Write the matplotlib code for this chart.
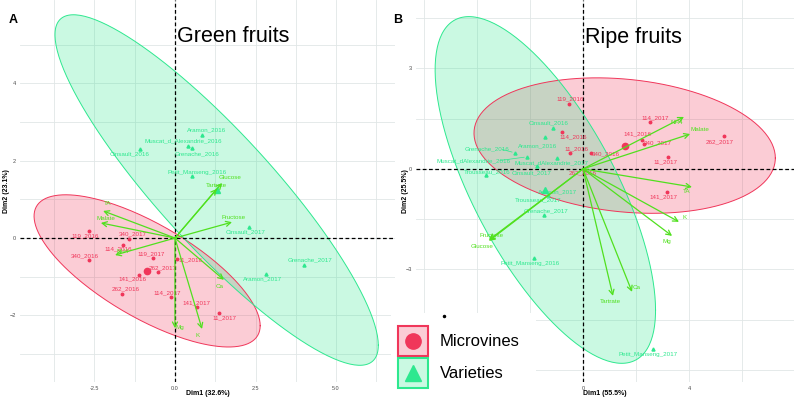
import matplotlib.pyplot as plt
import numpy as np
from matplotlib.lines import Line2D
from matplotlib.patches import Rectangle

plt.rcParams["font.family"] = ["Liberation Sans", "DejaVu Sans"]

RED = "#F0365A"
GREEN = "#2EE88F"
LIME = "#50E01E"

# ---------------- Panel A: green fruits ----------------
a_micro_names = ["119_2016", "340_2017", "114_2016", "340_2016", "119_2017", "262_2017",
                 "141_2016", "262_2016", "114_2017", "141_2017", "11_2017", "11_2016"]
a_micro_x = [-2.67, -1.43, -1.61, -2.67, -0.68, -0.53, -1.12, -1.65, -0.12, 0.68, 1.37, 0.06]
a_micro_y = [0.18, -0.03, -0.18, -0.57, -0.52, -0.88, -0.96, -1.45, -1.52, -1.78, -1.94, -0.54]

a_var_names = ["Aramon_2016", "Muscat_d_Alexandrie_2016", "Grenache_2016", "Cinsault_2016",
               "Petit_Manseng_2016", "Cinsault_2017", "Grenache_2017", "Aramon_2017"]
a_var_x = [0.84, 0.40, 0.53, -1.09, 0.53, 2.30, 4.01, 2.83]
a_var_y = [2.66, 2.38, 2.33, 2.30, 1.60, 0.28, -0.70, -0.93]

a_arrow_names = ["TA", "Malate", "NH4", "Glucose", "Tartrate", "Fructose", "Ca", "K", "Mg"]
a_arrow_x = [-2.23, -2.30, -1.86, 1.46, 1.30, 1.77, 1.52, 0.84, 0.0]
a_arrow_y = [0.70, 0.39, -0.44, 1.42, 1.27, 0.41, -1.08, -2.35, -2.33]

# ---------------- Panel B: ripe fruits ----------------
b_micro_names = ["119_2016", "114_2016", "11_2016", "340_2016", "262_2016", "141_2016",
                 "340_2017", "114_2017", "11_2017", "262_2017", "141_2017"]
b_micro_x = [-0.53, -0.79, -0.49, 0.30, 0.04, 2.23, 2.30, 2.53, 3.21, 5.32, 3.17]
b_micro_y = [1.94, 1.10, 0.48, 0.48, -0.03, 0.87, 0.75, 1.40, 0.36, 0.99, -0.69]

b_var_names = ["Cinsault_2016", "Aramon_2016", "Grenache_2016", "Muscat_dAlexandrie_2016",
               "Muscat_dAlexandrie_2017", "Cinsault_2017", "Trousseau_2016", "Aramon_2017",
               "Trousseau_2017", "Grenache_2017", "Petit_Manseng_2016", "Petit_Manseng_2017"]
b_var_x = [-1.13, -1.43, -2.57, -2.11, -0.98, -1.74, -3.66, -1.43, -1.32, -1.47, -1.85, 2.64]
b_var_y = [1.22, 0.96, 0.48, 0.36, 0.33, 0.09, -0.18, -0.63, -0.78, -1.37, -2.66, -5.37]

b_arrow_names = ["NH4", "Malate", "TA", "K", "Mg", "Ca", "Tartrate", "Fructose", "Glucose"]
b_arrow_x = [3.81, 4.04, 4.11, 3.62, 3.36, 1.85, 1.13, -3.55, -3.55]
b_arrow_y = [1.55, 1.04, -0.54, -1.58, -2.00, -3.67, -3.79, -2.12, -2.15]

# label nudges (pixels, right / up) -- mimic the repelled labels
a_nudge = {
    "Aramon_2016": (5, 5), "Muscat_d_Alexandrie_2016": (-5, 5), "Grenache_2016": (5, -6),
    "Cinsault_2016": (-10, -5), "Petit_Manseng_2016": (5, 4), "Cinsault_2017": (-3, -5),
    "Grenache_2017": (6, 5), "Aramon_2017": (-4, -5),
    "119_2016": (-4, -5), "340_2017": (4, 5), "114_2016": (-5, -4), "340_2016": (-4, 4),
    "119_2017": (-2, 4), "262_2017": (5, 4), "141_2016": (-6, -4), "262_2016": (4, 5),
    "114_2017": (-4, 4), "141_2017": (0, 4), "11_2017": (5, -5), "11_2016": (14, -1),
}
a_arrow_nudge = {
    "TA": (4, 7), "Malate": (5, 4), "NH4": (8, 4), "Glucose": (8, 6), "Tartrate": (0, 3),
    "Fructose": (2, 5), "Ca": (-4, -7), "K": (-4, -7), "Mg": (5, 1),
}
b_nudge = {
    "Cinsault_2016": (-4, 5), "Aramon_2016": (-8, -9), "Grenache_2016": (-28, 4),
    "Muscat_dAlexandrie_2016": (-54, -4), "Muscat_dAlexandrie_2017": (-6, -5),
    "Cinsault_2017": (-5, -7), "Trousseau_2016": (1, 3), "Aramon_2017": (12, -2),
    "Trousseau_2017": (-10, -5), "Grenache_2017": (2, 4), "Petit_Manseng_2016": (-4, -5),
    "Petit_Manseng_2017": (-5, -6),
    "119_2016": (1, 5), "114_2016": (11, -5), "11_2016": (6, 4), "340_2016": (15, -1),
    "262_2016": (-1, -3), "141_2016": (-5, 6), "340_2017": (14, 1), "114_2017": (5, 4),
    "11_2017": (-3, -5), "262_2017": (-4, -6), "141_2017": (-4, -5),
}
b_arrow_nudge = {
    "NH4": (-7, -6), "Malate": (10, 5), "TA": (-5, -5), "K": (6, 4), "Mg": (-5, -6),
    "Ca": (5, 4), "Tartrate": (-3, -6), "Fructose": (3, 4), "Glucose": (-7, -6),
}


def norm_ellipse(x, y, level=0.95, npts=240):
    """95% normal ellipse as in ggplot2 stat_ellipse(type='norm')."""
    pts = np.column_stack([x, y])
    dfd = len(pts) - 1
    # quantile of F(2, dfd) in closed form
    q = dfd / 2 * ((1 - level) ** (-2 / dfd) - 1)
    radius = np.sqrt(2 * q)
    chol = np.linalg.cholesky(np.cov(pts, rowvar=False))
    t = np.linspace(0, 2 * np.pi, npts)
    circle = np.column_stack([np.cos(t), np.sin(t)])
    return pts.mean(axis=0) + radius * circle @ chol.T


def label_points(ax, names, xs, ys, nudge, color):
    for n, x, y in zip(names, xs, ys):
        dx, dy = nudge.get(n, (0, 4))
        ax.annotate(n, (x, y), xytext=(dx, dy), textcoords="offset pixels",
                    ha="center", va="center", fontsize=4.5, color=color, zorder=6)
        if np.hypot(dx, dy) > 20:
            ax.annotate("", (x, y), xytext=(dx * 0.55, dy), textcoords="offset pixels",
                        arrowprops=dict(arrowstyle="-", color=color, lw=0.5), zorder=5)


def draw_panel(ax, micro, var, arrows, nudge, arrow_nudge, xlim, ylim, xmaj, xmin, ymaj, ymin,
               xlabel, ylabel):
    ax.set_xlim(*xlim)
    ax.set_ylim(*ylim)
    ax.set_xticks(xmaj)
    ax.set_xticks(xmin, minor=True)
    ax.set_yticks(ymaj)
    ax.set_yticks(ymin, minor=True)
    ax.grid(True, which="both", color="#E1E6E6", lw=0.6)
    ax.set_axisbelow(True)
    for s in ax.spines.values():
        s.set_visible(False)
    ax.tick_params(which="both", length=0, labelsize=4, labelcolor="#4D4D4D", pad=3)

    for (names, xs, ys), col in ((micro, RED), (var, GREEN)):
        ell = norm_ellipse(xs, ys)
        ax.fill(ell[:, 0], ell[:, 1], facecolor=col, alpha=0.25, edgecolor="none", zorder=1)
        ax.plot(ell[:, 0], ell[:, 1], color=col, lw=0.7, zorder=2)

    ax.axhline(0, color="black", ls=(0, (3, 2)), lw=0.9, zorder=3)
    ax.axvline(0, color="black", ls=(0, (3, 2)), lw=0.9, zorder=3)

    names, xs, ys = micro
    ax.plot(xs, ys, "o", ms=1.8, color=RED, zorder=4)
    ax.plot(np.mean(xs), np.mean(ys), "o", ms=4.5, color=RED, zorder=4)
    label_points(ax, names, xs, ys, nudge, RED)

    names, xs, ys = var
    ax.plot(xs, ys, "^", ms=2.2, color=GREEN, zorder=4)
    ax.plot(np.mean(xs), np.mean(ys), "^", ms=4.5, color=GREEN, zorder=4)
    label_points(ax, names, xs, ys, nudge, GREEN)

    names, xs, ys = arrows
    for n, x, y in zip(names, xs, ys):
        ax.annotate("", (x, y), xytext=(0, 0),
                    arrowprops=dict(arrowstyle="->,head_length=0.35,head_width=0.18",
                                    color=LIME, lw=0.9, shrinkA=0, shrinkB=0), zorder=7)
        dx, dy = arrow_nudge[n]
        ax.annotate(n, (x, y), xytext=(dx, dy), textcoords="offset pixels",
                    ha="center", va="center", fontsize=4.5, color=LIME, zorder=7)

    ax.set_xlabel(xlabel, fontsize=5, fontweight="bold", va="center")
    ax.set_ylabel(ylabel, fontsize=5, fontweight="bold", va="center")


W, H = 794, 400
fig = plt.figure(figsize=(W / 100, H / 100), dpi=100)

ax_a = fig.add_axes([20 / W, 18 / H, 375 / W, 382 / H])
draw_panel(ax_a, (a_micro_names, a_micro_x, a_micro_y), (a_var_names, a_var_x, a_var_y),
           (a_arrow_names, a_arrow_x, a_arrow_y), a_nudge, a_arrow_nudge,
           (-4.81, 6.83), (-3.72, 6.15),
           [-2.5, 0, 2.5, 5.0], [-3.75, -1.25, 1.25, 3.75, 6.25],
           [-2, 0, 2, 4], [-3, -1, 1, 3, 5],
           "Dim1 (32.6%)", "Dim2 (23.1%)")
ax_a.set_xticklabels(["-2.5", "0.0", "2.5", "5.0"])
ax_a.xaxis.set_label_coords(0.5, -0.03)
ax_a.yaxis.set_label_coords(-0.037, 0.5)

ax_b = fig.add_axes([416 / W, 18 / H, 378 / W, 382 / H])
draw_panel(ax_b, (b_micro_names, b_micro_x, b_micro_y), (b_var_names, b_var_x, b_var_y),
           (b_arrow_names, b_arrow_x, b_arrow_y), b_nudge, b_arrow_nudge,
           (-6.30, 7.96), (-6.36, 5.04),
           [-4, 0, 4], [-6, -2, 2, 6],
           [-6, -3, 0, 3], [-4.5, -1.5, 1.5, 4.5],
           "Dim1 (55.5%)", "Dim2 (25.5%)")
ax_b.xaxis.set_label_coords(0.5, -0.03)
ax_b.yaxis.set_label_coords(-0.029, 0.5)

# titles and panel tags
fig.text(177 / W, 1 - 37 / H, "Green fruits", fontsize=15.5, va="center", ha="left")
fig.text(585 / W, 1 - 37 / H, "Ripe fruits", fontsize=15.5, va="center", ha="left")
fig.text(13 / W, 1 - 20 / H, "A", fontsize=9, fontweight="bold", va="center", ha="center")
fig.text(398 / W, 1 - 20 / H, "B", fontsize=9, fontweight="bold", va="center", ha="center")

# legend pasted over the lower-left of panel B
fig.add_artist(Rectangle((391 / W, 0), 145 / W, 87 / H, transform=fig.transFigure,
                         facecolor="white", edgecolor="none", zorder=10))
fig.add_artist(Line2D([444 / W], [1 - 316 / H], marker="o", ms=1.5, color="black",
                      transform=fig.transFigure, zorder=11))
legend_items = [("Microvines", RED, "o", 341), ("Varieties", GREEN, "^", 373)]
for text, col, mk, yc in legend_items:
    fig.add_artist(Rectangle((398 / W, 1 - (yc + 15) / H), 30 / W, 30 / H,
                             transform=fig.transFigure, facecolor=col + "40",
                             edgecolor=col, lw=1.5, zorder=11))
    fig.add_artist(Line2D([413 / W], [1 - yc / H], marker=mk, ms=11, color=col,
                          transform=fig.transFigure, zorder=12))
    fig.text(440 / W, 1 - yc / H, text, fontsize=12, va="center", ha="left", zorder=12)

fig.savefig("out.png", dpi=100)
